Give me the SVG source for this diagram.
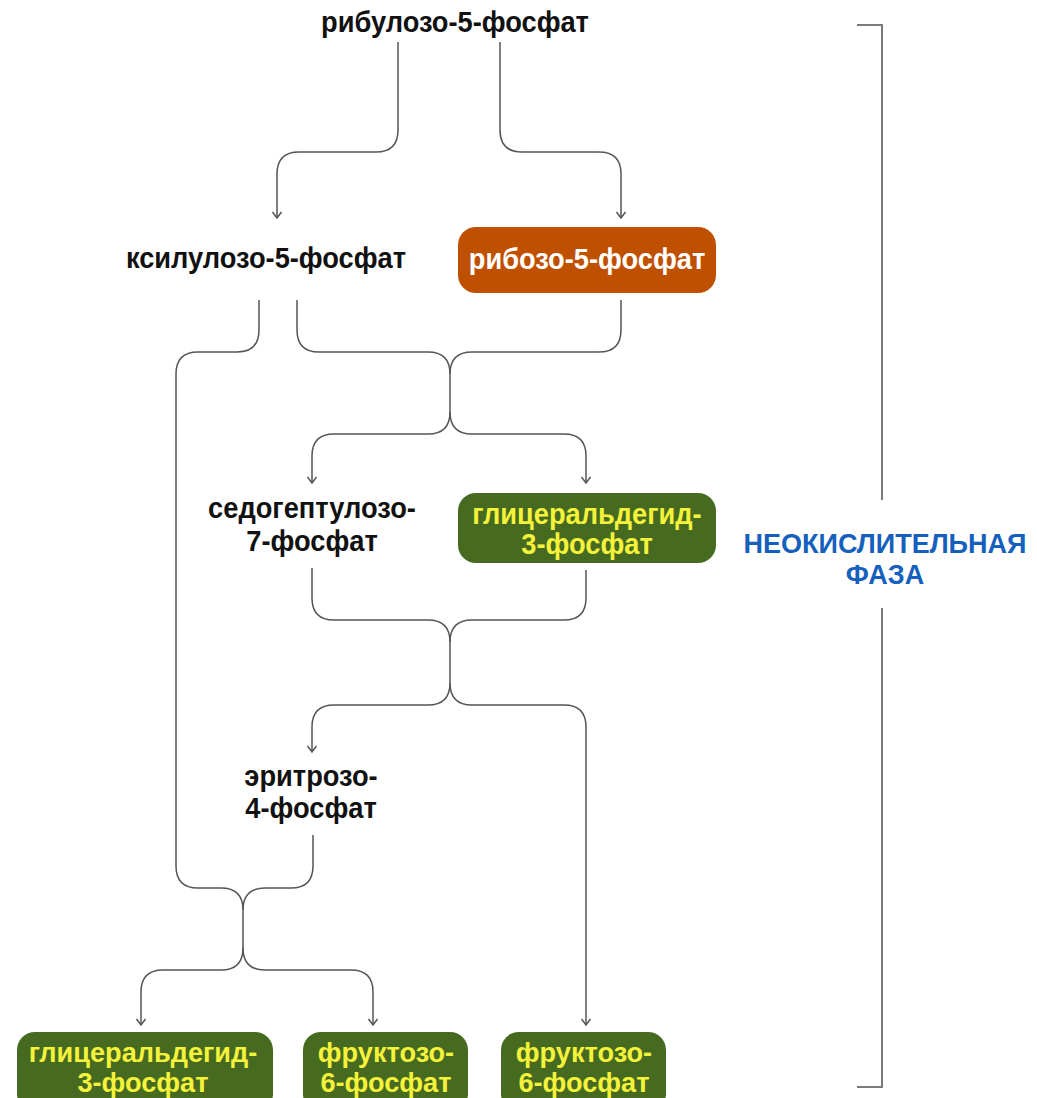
<svg xmlns="http://www.w3.org/2000/svg" width="1037" height="1098" viewBox="0 0 1037 1098">
  <style>
    .lbl { font-family: "Liberation Sans", Arial, sans-serif; font-weight: bold; font-size: 29px; text-anchor: middle; }
    .sm { font-size: 28px; }
    .dark { fill: #111111; }
    .white { fill: #ffffff; }
    .yellow { fill: #f4f23a; }
    .phase { font-family: "Liberation Sans", Arial, sans-serif; font-weight: bold; font-size: 27px; text-anchor: middle; fill: #1560bd; }
    .green { fill: #476a21; }
    .orange { fill: #bf5000; }
    .wire { fill: none; stroke: #555555; stroke-width: 1.5; }
    .arrow { marker-end: url(#arr); }
    .bracket { fill: none; stroke: #7a7a7a; stroke-width: 2; }
  </style>
  <defs>
    <marker id="arr" viewBox="-8 -6 10 12" refX="0" refY="0" markerWidth="10" markerHeight="12" markerUnits="userSpaceOnUse" orient="auto">
      <path d="M-6,-4.5 L0,0 L-6,4.5" fill="none" stroke="#555555" stroke-width="1.5"/>
    </marker>
  </defs>

  <rect width="1037" height="1098" fill="#ffffff"/>

  <!-- connectors -->
  <g id="connectors">
    <!-- ribulose-5-P splits -->
    <path class="wire arrow" d="M398,42 V130 Q398,152 376,152 H299 Q277,152 277,174 V218"/>
    <path class="wire arrow" d="M500,42 V130 Q500,152 522,152 H599 Q621,152 621,174 V218"/>
    <!-- first transketolase merge -->
    <path class="wire arrow" d="M297,300 V330 Q297,352 319,352 H428 Q450,352 450,374 V412 Q450,434 428,434 H334 Q312,434 312,456 V483"/>
    <path class="wire" d="M621,300 V330 Q621,352 599,352 H472 Q450,352 450,374"/>
    <path class="wire arrow" d="M450,412 Q450,434 472,434 H564 Q586,434 586,456 V483"/>
    <!-- transaldolase merge -->
    <path class="wire arrow" d="M312,568 V598 Q312,620 334,620 H428 Q450,620 450,642 V683 Q450,705 428,705 H334 Q312,705 312,727 V752"/>
    <path class="wire" d="M586,570 V598 Q586,620 564,620 H472 Q450,620 450,642"/>
    <path class="wire arrow" d="M450,683 Q450,705 472,705 H564 Q586,705 586,727 V1025"/>
    <!-- second transketolase merge -->
    <path class="wire arrow" d="M259,300 V330 Q259,352 237,352 H198 Q176,352 176,374 V866 Q176,888 198,888 H221 Q243,888 243,910 V948 Q243,970 221,970 H163 Q141,970 141,992 V1025"/>
    <path class="wire" d="M313,835 V866 Q313,888 291,888 H265 Q243,888 243,910"/>
    <path class="wire arrow" d="M243,948 Q243,970 265,970 H351 Q373,970 373,992 V1025"/>
  </g>

  <!-- nodes (labels use a slightly condensed bold face: scaled horizontally) -->
  <g id="ribulose5p">
    <text class="lbl dark" transform="translate(455 32) scale(0.94 1)">рибулозо-5-фосфат</text>
  </g>
  <g id="xylulose5p">
    <text class="lbl dark" transform="translate(266 268) scale(0.94 1)">ксилулозо-5-фосфат</text>
  </g>
  <g id="ribose5p">
    <rect class="orange" x="458" y="227" width="258" height="66" rx="18"/>
    <text class="lbl white" transform="translate(587 269) scale(0.94 1)">рибозо-5-фосфат</text>
  </g>
  <g id="sedoheptulose7p">
    <text class="lbl dark" transform="translate(312 518) scale(0.94 1)">седогептулозо-</text>
    <text class="lbl dark" transform="translate(312 551) scale(0.94 1)">7-фосфат</text>
  </g>
  <g id="gap1">
    <rect class="green" x="458" y="493" width="258" height="70" rx="18"/>
    <text class="lbl yellow" transform="translate(587 524) scale(0.94 1)">глицеральдегид-</text>
    <text class="lbl yellow" transform="translate(587 554) scale(0.94 1)">3-фосфат</text>
  </g>
  <g id="erythrose4p">
    <text class="lbl dark" transform="translate(311 786) scale(0.94 1)">эритрозо-</text>
    <text class="lbl dark" transform="translate(311 818) scale(0.94 1)">4-фосфат</text>
  </g>
  <g id="gap2">
    <rect class="green" x="17" y="1032" width="256" height="80" rx="18"/>
    <text class="lbl sm yellow" transform="translate(143 1062) scale(0.97 1)">глицеральдегид-</text>
    <text class="lbl sm yellow" transform="translate(143 1092) scale(0.97 1)">3-фосфат</text>
  </g>
  <g id="f6p1">
    <rect class="green" x="303" y="1032" width="165" height="80" rx="18"/>
    <text class="lbl sm yellow" transform="translate(386 1062) scale(0.97 1)">фруктозо-</text>
    <text class="lbl sm yellow" transform="translate(386 1092) scale(0.97 1)">6-фосфат</text>
  </g>
  <g id="f6p2">
    <rect class="green" x="501" y="1032" width="165" height="80" rx="18"/>
    <text class="lbl sm yellow" transform="translate(584 1062) scale(0.97 1)">фруктозо-</text>
    <text class="lbl sm yellow" transform="translate(584 1092) scale(0.97 1)">6-фосфат</text>
  </g>

  <!-- phase bracket -->
  <g id="phase">
    <path class="bracket" d="M857,25 H882 V500"/>
    <path class="bracket" d="M882,608 V1087 H857"/>
    <text class="phase" x="885" y="553">НЕОКИСЛИТЕЛЬНАЯ</text>
    <text class="phase" x="885" y="584">ФАЗА</text>
  </g>
</svg>
